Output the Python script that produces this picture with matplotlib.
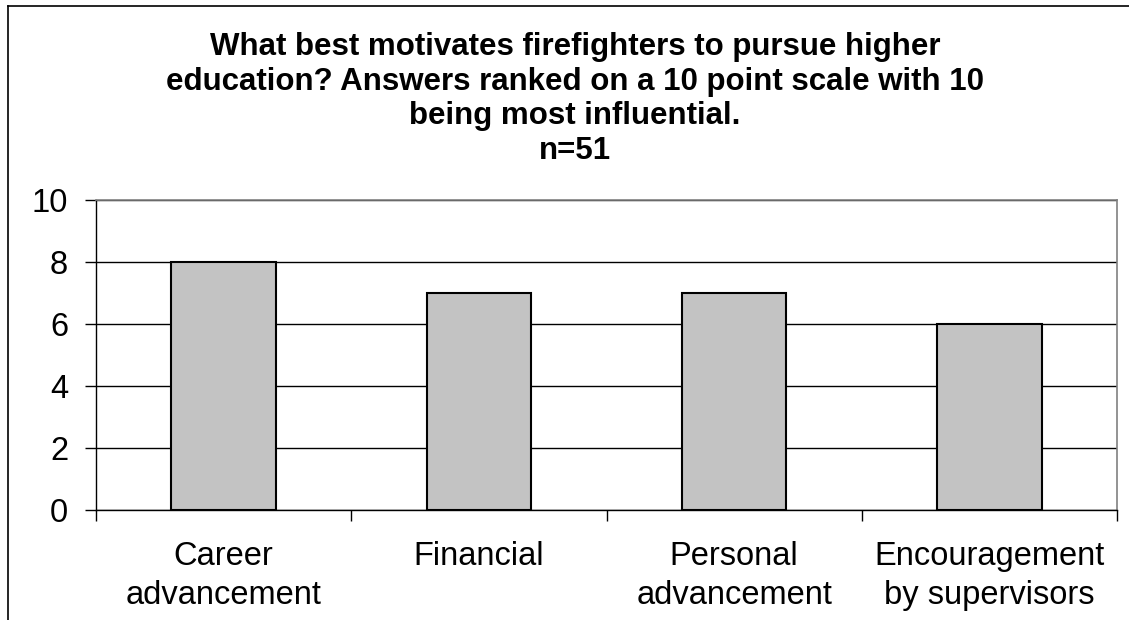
import matplotlib
matplotlib.use("Agg")
import matplotlib.pyplot as plt
from matplotlib.lines import Line2D
import numpy as np

plt.rcParams["font.family"] = ["Liberation Sans", "DejaVu Sans"]

categories = ["Career\nadvancement", "Financial", "Personal\nadvancement",
              "Encouragement\nby supervisors"]
scores = [8, 7, 7, 6]
y_ticks = [0, 2, 4, 6, 8, 10]
title_lines = ["What best motivates firefighters to pursue higher",
               "education? Answers ranked on a 10 point scale with 10",
               "being most influential.",
               "n=51"]

W, H = 1129, 620
fig = plt.figure(figsize=(W / 100, H / 100), dpi=100)
ax = fig.add_axes([96 / W, 1 - 510 / H, (1117 - 96) / W, (510 - 200) / H])

x = np.arange(len(categories))
ax.bar(x, scores, width=0.41, color="#c3c3c3", edgecolor="black",
       linewidth=1.5, zorder=3)

ax.set_xlim(-0.5, len(categories) - 0.5)
ax.set_ylim(0, 10)
ax.set_yticks(y_ticks)
ax.set_yticklabels([str(t) for t in y_ticks], fontsize=23.5)
ax.yaxis.grid(True, color="black", linewidth=1, zorder=0)

ax.set_xticks(x)
ax.set_xticklabels(categories, fontsize=23.5, linespacing=1.31)
ax.tick_params(axis="x", which="major", length=0, pad=22.5)
ax.tick_params(axis="y", length=8, width=1, pad=12, direction="out")

# category separators below axis
ax.set_xticks(np.arange(len(categories) + 1) - 0.5, minor=True)
ax.tick_params(axis="x", which="minor", length=8, width=1, direction="out")

for side in ["top", "right"]:
    ax.spines[side].set_color("#808080")
    ax.spines[side].set_linewidth(1.2)
for side in ["left", "bottom"]:
    ax.spines[side].set_color("black")
    ax.spines[side].set_linewidth(1)

# title, one line at a time (baselines in px from top)
for line, ypx in zip(title_lines, [55, 90, 124, 159]):
    fig.text(575 / W, 1 - ypx / H, line, ha="center", va="baseline",
             fontsize=22.5, fontweight="bold")

# outer chart frame (top and left edges visible)
fig.add_artist(Line2D([8 / W, 1], [1 - 6 / H, 1 - 6 / H], color="black",
                      linewidth=1.2, transform=fig.transFigure))
fig.add_artist(Line2D([8 / W, 8 / W], [0, 1 - 6 / H], color="black",
                      linewidth=1.2, transform=fig.transFigure))

fig.savefig("out.png", dpi=100, facecolor="white")
